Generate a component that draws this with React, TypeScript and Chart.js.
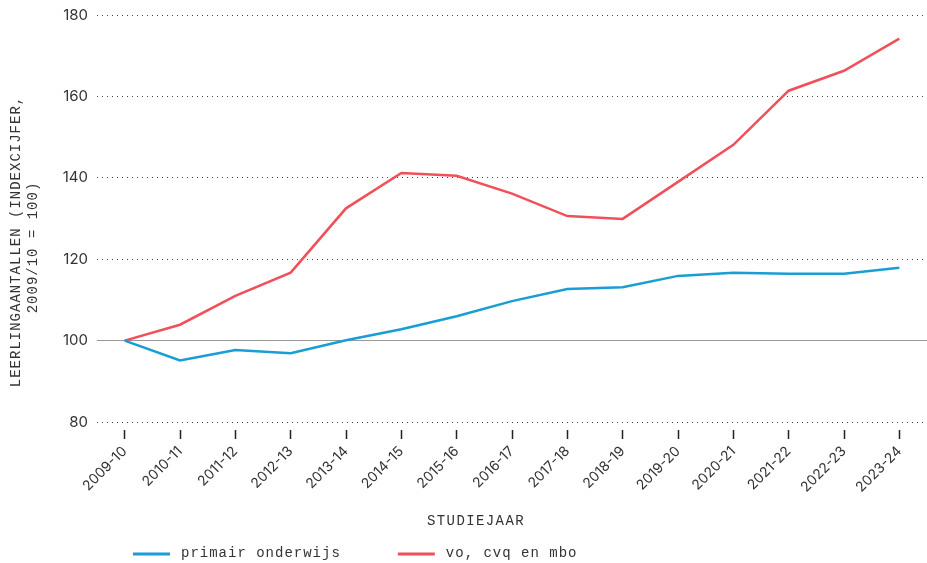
import React, { useEffect, useRef } from "react";
import { Chart, registerables } from "chart.js";

Chart.register(...registerables);

const categories = [
  "2009-10", "2010-11", "2011-12", "2012-13", "2013-14", "2014-15", "2015-16",
  "2016-17", "2017-18", "2018-19", "2019-20", "2020-21", "2021-22", "2022-23", "2023-24",
];
const primairOnderwijs = [100, 95.1, 97.7, 96.9, 100.1, 102.8, 106.0, 109.7, 112.7, 113.1, 115.9, 116.7, 116.4, 116.4, 117.9];
const voCvqMbo = [100, 103.9, 111.0, 116.7, 132.5, 141.2, 140.5, 136.1, 130.6, 129.9, 139.0, 148.1, 161.4, 166.3, 174.2];
const seriesLabels = ["primair onderwijs", "vo, cvq en mbo"];
const yTitleLines = ["LEERLINGAANTALLEN (INDEXCIJFER,", "2009/10 = 100)"];
const xTitle = "STUDIEJAAR";
const yMin = 80;
const yMax = 180;
const yStep = 20;
const baselineValue = 100;

const BLUE = "#189dd4";
const RED = "#ef505a";
const TEXT = "#333333";
const MONO = "'Liberation Mono', 'DejaVu Sans Mono', monospace";
const SANS = "Inter, Roboto, 'DejaVu Sans', sans-serif";

const overlayPlugin = {
  id: "overlayText",
  afterDraw(chart: any) {
    const ctx = chart.ctx as CanvasRenderingContext2D;
    const area = chart.chartArea;
    ctx.save();
    ctx.fillStyle = TEXT;
    ctx.font = `14px ${MONO}`;
    (ctx as any).letterSpacing = "1px";
    ctx.textAlign = "center";
    ctx.textBaseline = "middle";
    const midY = (area.top + area.bottom) / 2;
    ctx.save();
    ctx.translate(16, midY + 23);
    ctx.rotate(-Math.PI / 2);
    ctx.fillText(yTitleLines[0], 0, 0);
    ctx.restore();
    ctx.save();
    ctx.translate(33, midY + 29);
    ctx.rotate(-Math.PI / 2);
    ctx.fillText(yTitleLines[1], 0, 0);
    ctx.restore();
    (ctx as any).letterSpacing = "1.4px";
    ctx.fillText(xTitle, 476, 521);
    ctx.restore();

    ctx.save();
    ctx.font = `14px ${MONO}`;
    (ctx as any).letterSpacing = "1px";
    ctx.textBaseline = "middle";
    ctx.textAlign = "left";
    let x = 133;
    const y = 554;
    chart.data.datasets.forEach((ds: any) => {
      ctx.strokeStyle = ds.borderColor;
      ctx.lineWidth = 3;
      ctx.beginPath();
      ctx.moveTo(x, y);
      ctx.lineTo(x + 37, y);
      ctx.stroke();
      ctx.fillStyle = TEXT;
      ctx.fillText(ds.label, x + 48, y - 1);
      const w = ctx.measureText(ds.label).width;
      x = x + 48 + w + 57;
    });
    ctx.restore();
  },
};

export default function App() {
  const canvasRef = useRef<HTMLCanvasElement | null>(null);

  useEffect(() => {
    if (!canvasRef.current) return;
    const chart = new Chart(canvasRef.current, {
      type: "line",
      data: {
        labels: categories,
        datasets: [
          {
            label: seriesLabels[0],
            data: primairOnderwijs,
            borderColor: BLUE,
            backgroundColor: BLUE,
            borderWidth: 2.5,
            pointRadius: 0,
            tension: 0,
          },
          {
            label: seriesLabels[1],
            data: voCvqMbo,
            borderColor: RED,
            backgroundColor: RED,
            borderWidth: 2.5,
            pointRadius: 0,
            tension: 0,
          },
        ],
      },
      options: {
        responsive: false,
        animation: false,
        devicePixelRatio: 1,
        layout: { padding: { top: 15, right: 0, bottom: 0, left: 0 } },
        plugins: {
          legend: { display: false },
          tooltip: { enabled: false },
        },
        scales: {
          x: {
            type: "category",
            offset: true,
            afterFit: (scale: any) => {
              scale.height = 141;
              scale.paddingLeft = 0;
              scale.paddingRight = 0;
            },
            border: { display: false },
            grid: {
              display: true,
              drawOnChartArea: false,
              drawTicks: true,
              tickLength: 17,
              tickColor: "#222222",
              tickWidth: 1.5,
              tickBorderDash: [0, 8, 9, 0],
              offset: false,
            },
            ticks: {
              autoSkip: false,
              maxRotation: 45,
              minRotation: 45,
              padding: 4,
              color: TEXT,
              font: { family: SANS, size: 14 },
            },
          },
          y: {
            min: yMin,
            max: yMax,
            afterFit: (scale: any) => {
              scale.width = 97;
              scale.paddingTop = 0;
              scale.paddingBottom = 0;
            },
            border: {
              display: false,
              dash: (c: any) => (c.tick && c.tick.value === baselineValue ? [] : [1, 4]),
            },
            grid: {
              drawTicks: false,
              color: (c: any) => (c.tick && c.tick.value === baselineValue ? "#999999" : "#444444"),
              lineWidth: 1,
            },
            ticks: {
              stepSize: yStep,
              padding: 9,
              color: TEXT,
              font: { family: SANS, size: 15 },
            },
          },
        },
      },
      plugins: [overlayPlugin],
    });
    return () => chart.destroy();
  }, []);

  return (
    <div style={{ position: "fixed", left: 0, top: 0, width: 927, height: 563, background: "#fff" }}>
      <canvas ref={canvasRef} width={927} height={563} style={{ display: "block" }} />
    </div>
  );
}
